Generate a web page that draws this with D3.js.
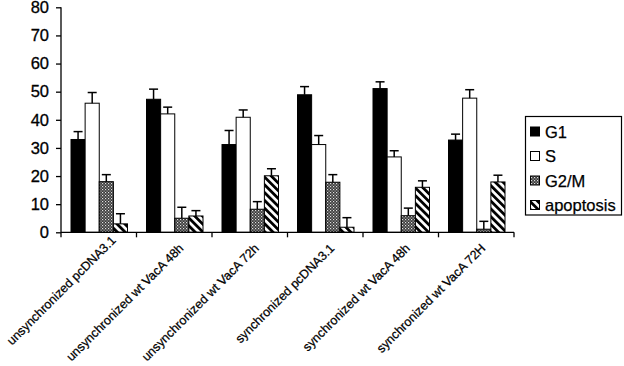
<!DOCTYPE html>
<html><head><meta charset="utf-8">
<script src="https://cdn.jsdelivr.net/npm/d3@7"></script>
<style>html,body{margin:0;padding:0;background:#fff;}svg{display:block;font-family:"Liberation Sans",Arial,sans-serif;}</style>
</head><body><svg id="c" width="624" height="366"></svg>
<script>
const categories = ["unsynchronized pcDNA3.1","unsynchronized wt VacA 48h","unsynchronized wt VacA 72h","synchronized pcDNA3.1","synchronized  wt VacA 48h","synchronized wt VacA 72H"];
const seriesNames = ["G1","S","G2/M","apoptosis"];
const G1 = [33, 47.3, 31.2, 48.9, 51.1, 32.8];
const G1err = [2.8, 3.6, 5.0, 2.9, 2.4, 2.1];
const S = [45.9, 42.1, 40.9, 31.2, 26.8, 47.7];
const Serr = [3.8, 2.4, 2.6, 3.2, 2.2, 3.0];
const G2M = [18, 5, 8.2, 17.8, 5.9, 1.1];
const G2Merr = [2.5, 3.9, 2.7, 2.7, 2.7, 2.8];
const apop = [3, 5.8, 20.1, 1.8, 16, 17.9];
const apopErr = [3.6, 1.9, 2.5, 3.4, 2.3, 2.4];
const yTicks = [0,10,20,30,40,50,60,70,80];

const values = [G1, S, G2M, apop];
const errs = [G1err, Serr, G2Merr, apopErr];

const svg = d3.select("#c");
const defs = svg.append("defs");
// G2/M fine checker pattern
const p1 = defs.append("pattern").attr("id","checker").attr("patternUnits","userSpaceOnUse").attr("width",3).attr("height",3);
p1.append("rect").attr("width",3).attr("height",3).attr("fill","#3a3a3a");
p1.append("rect").attr("x",0).attr("y",0).attr("width",1.2).attr("height",1.2).attr("fill","#e0e0e0");
p1.append("rect").attr("x",1.5).attr("y",1.5).attr("width",1.2).attr("height",1.2).attr("fill","#b0b0b0");
// apoptosis diagonal stripes "\"
const p2 = defs.append("pattern").attr("id","stripes").attr("patternUnits","userSpaceOnUse").attr("width",5.5).attr("height",5.5).attr("patternTransform","rotate(-45)");
p2.append("rect").attr("width",5.5).attr("height",5.5).attr("fill","#fff");
p2.append("rect").attr("x",0).attr("width",2.8).attr("height",5.5).attr("fill","#000");

const fills = ["#000","#fff","url(#checker)","url(#stripes)"];

const x = d3.scaleBand().domain(categories).range([61,514]).paddingInner(0).paddingOuter(0);
const xs = d3.scaleBand().domain(seriesNames).range([10,66.5]).padding(0);
const y = d3.scaleLinear().domain([0,80]).range([232.3,7.3]);

// bars
seriesNames.forEach((s,si)=>{
  const g = svg.append("g");
  categories.forEach((c,ci)=>{
    const v = values[si][ci];
    g.append("rect")
      .attr("x", x(c)+xs(s)).attr("y", y(v))
      .attr("width", xs.bandwidth()).attr("height", y(0)-y(v))
      .attr("fill", fills[si]).attr("stroke","#000").attr("stroke-width",1);
  });
});
// error bars
seriesNames.forEach((s,si)=>{
  categories.forEach((c,ci)=>{
    const v = values[si][ci], e = errs[si][ci];
    const cx = x(c)+xs(s)+xs.bandwidth()/2;
    svg.append("line").attr("x1",cx).attr("x2",cx).attr("y1",y(v)).attr("y2",y(v+e)).attr("stroke","#000").attr("stroke-width",1.5);
    svg.append("line").attr("x1",cx-4.5).attr("x2",cx+4.5).attr("y1",y(v+e)).attr("y2",y(v+e)).attr("stroke","#000").attr("stroke-width",1.5);
  });
});

// y axis
const yAxis = d3.axisLeft(y).tickValues(yTicks).tickSize(5).tickPadding(7).tickFormat(d3.format("d"));
const ya = svg.append("g").attr("transform","translate(61,0)").call(yAxis);
ya.select(".domain").attr("stroke","#000").attr("stroke-width",1.3).attr("d","M0,"+y(80)+"V"+y(0));
ya.selectAll(".tick line").attr("stroke","#000").attr("stroke-width",1.3);
ya.selectAll(".tick text").attr("font-size","16.5px").attr("fill","#000").attr("stroke","#000").attr("stroke-width",0.3).attr("font-family","Liberation Sans, Arial, sans-serif");

// x axis
svg.append("line").attr("x1",61).attr("x2",514).attr("y1",y(0)).attr("y2",y(0)).attr("stroke","#000").attr("stroke-width",1.3);
const bounds = categories.map(c=>x(c)).concat([x(categories[categories.length-1])+x.bandwidth()]);
bounds.forEach(b=>{
  svg.append("line").attr("x1",b).attr("x2",b).attr("y1",y(0)).attr("y2",y(0)+5).attr("stroke","#000").attr("stroke-width",1.3);
});
categories.forEach(c=>{
  const cx = x(c)+x.bandwidth()/2;
  const t = svg.append("text")
    .attr("text-anchor","end").attr("font-size","12.5px").attr("fill","#000")
    .attr("stroke","#000").attr("stroke-width",0.25)
    .text(c);
  // keep the label inside the left edge of the picture
  const len = t.node().getComputedTextLength();
  let ax = cx + 10, ay = 249;
  const startX = ax - len * Math.SQRT1_2;
  if (startX < 12) { const sh = 12 - startX; ax += sh; ay -= sh; }
  t.attr("transform",`translate(${ax},${ay}) rotate(-45)`);
});

// legend
const lg = svg.append("g");
lg.append("rect").attr("x",525.5).attr("y",116.5).attr("width",96).attr("height",98.5).attr("fill","#fff").attr("stroke","#000").attr("stroke-width",1.2);
seriesNames.forEach((s,i)=>{
  const cy = 131.5 + i*24.5;
  lg.append("rect").attr("x",530.5).attr("y",cy-4.5).attr("width",9).attr("height",9).attr("fill",fills[i]).attr("stroke","#000").attr("stroke-width",1);
  lg.append("text").attr("x",545).attr("y",cy+6).attr("font-size","16.5px").attr("fill","#000").attr("stroke","#000").attr("stroke-width",0.25).text(s);
});
</script></body></html>
